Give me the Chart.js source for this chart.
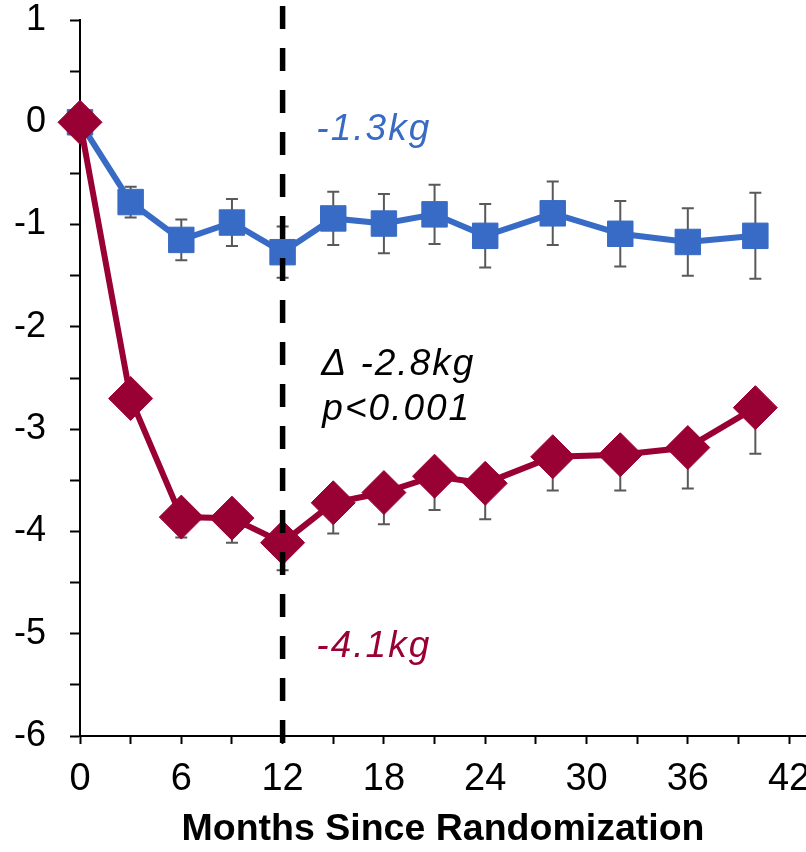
<!DOCTYPE html>
<html>
<head>
<meta charset="utf-8">
<title>Weight change since randomization</title>
<script src="https://cdn.jsdelivr.net/npm/chart.js@4/dist/chart.umd.min.js"></script>
<style>
    html, body { margin: 0; padding: 0; background: #fff; }
    #myChart { display: block; }
</style>
</head>
<body>
<canvas id="myChart" width="806" height="852"></canvas>
<script>
/*

Weight change (kg) by month since randomization, two arms with error bars.

*/

// Data
const months = [0, 3, 6, 9, 12, 15, 18, 21, 24, 28, 32, 36, 40];
const blueValues = [0, -0.78, -1.15, -0.98, -1.27, -0.94, -0.99, -0.90, -1.11, -0.89, -1.09, -1.17, -1.11];
const blueErrors = [0, 0.15, 0.20, 0.23, 0.25, 0.26, 0.29, 0.29, 0.31, 0.31, 0.32, 0.33, 0.42];
const redValues = [0, -2.70, -3.86, -3.87, -4.11, -3.72, -3.62, -3.46, -3.53, -3.27, -3.25, -3.18, -2.79];
const redErrors = [0, 0.15, 0.20, 0.24, 0.27, 0.30, 0.31, 0.33, 0.35, 0.33, 0.35, 0.40, 0.45];
const xTickValues = [0, 3, 6, 9, 12, 15, 18, 21, 24, 27, 30, 33, 36, 39, 42];
const yTickValues = [1, 0.5, 0, -0.5, -1, -1.5, -2, -2.5, -3, -3.5, -4, -4.5, -5, -5.5, -6];
const cutMonth = 12;
const pValueText = 'p<0.001';

const BLUE = '#386BC5';
const RED = '#990033';
const FONT = "Arial, 'Liberation Sans', sans-serif";

function pointsOf(values) {
    return months.map(function (m, i) { return { x: m, y: values[i] }; });
}

function kg(v) {
    return v.toFixed(1) + 'kg';
}

// keep the plot area fixed: no extra room for overflowing tick labels
function noPadding(scale) {
    scale.paddingTop = 0;
    scale.paddingBottom = 0;
    scale.paddingLeft = 0;
    scale.paddingRight = 0;
}

// Error bars drawn under each dataset's markers
const errorBars = {
    id: 'errorBars',
    beforeDatasetDraw: function (chart, args) {
        const ds = chart.data.datasets[args.index];
        if (!ds.errors) return;
        const ctx = chart.ctx;
        const xs = chart.scales.x;
        const ys = chart.scales.y;
        ctx.save();
        ctx.strokeStyle = '#595959';
        ctx.lineWidth = 2;
        for (let i = 0; i < ds.data.length; i++) {
            const e = ds.errors[i];
            if (!e) continue;
            const px = xs.getPixelForValue(ds.data[i].x);
            const yMid = ys.getPixelForValue(ds.data[i].y);
            const ends = [ys.getPixelForValue(ds.data[i].y - e)];
            if (ds.bothSides) ends.push(ys.getPixelForValue(ds.data[i].y + e));
            ends.forEach(function (yEnd) {
                ctx.beginPath();
                ctx.moveTo(px, yMid);
                ctx.lineTo(px, yEnd);
                ctx.moveTo(px - 6, yEnd);
                ctx.lineTo(px + 6, yEnd);
                ctx.stroke();
            });
        }
        ctx.restore();
    }
};

// Dashed marker at 12 months and the text notes
const notes = {
    id: 'notes',
    afterDatasetsDraw: function (chart) {
        const ctx = chart.ctx;
        const px = chart.scales.x.getPixelForValue(cutMonth);
        ctx.save();
        ctx.strokeStyle = '#000';
        ctx.lineWidth = 5.5;
        ctx.setLineDash([23, 19]);
        ctx.beginPath();
        ctx.moveTo(px, chart.chartArea.top - 14);
        ctx.lineTo(px, chart.chartArea.bottom + 8);
        ctx.stroke();
        ctx.restore();

        const i = months.indexOf(cutMonth);
        const blueAt = blueValues[i];
        const redAt = redValues[i];
        const tx = chart.scales.x.getPixelForValue(14);

        ctx.save();
        ctx.font = 'italic 37px ' + FONT;
        ctx.letterSpacing = '2px';
        ctx.textAlign = 'left';
        ctx.textBaseline = 'alphabetic';
        ctx.fillStyle = BLUE;
        ctx.fillText(kg(blueAt), tx, 140);
        ctx.fillStyle = RED;
        ctx.fillText(kg(redAt), tx, 657);
        ctx.fillStyle = '#000';
        ctx.fillText('\u0394 ' + kg(redAt - blueAt), tx + 5, 375);
        ctx.fillText(pValueText, tx + 6, 420);
        ctx.restore();
    }
};

const ctx = document.getElementById('myChart').getContext('2d');
const myChart = new Chart(ctx, {
    type: 'line',
    data: {
        datasets: [{
            label: 'Red arm',
            data: pointsOf(redValues),
            errors: redErrors,
            bothSides: false,
            borderColor: RED,
            backgroundColor: RED,
            borderWidth: 6,
            pointStyle: 'rectRot',
            pointRadius: 22,
            pointBorderWidth: 1,
            pointBorderColor: RED,
            pointBackgroundColor: RED,
            tension: 0,
            clip: false
        }, {
            label: 'Blue arm',
            data: pointsOf(blueValues),
            errors: blueErrors,
            bothSides: true,
            borderColor: BLUE,
            backgroundColor: BLUE,
            borderWidth: 6,
            pointStyle: 'rect',
            pointRadius: 18,
            pointBorderWidth: 1,
            pointBorderColor: BLUE,
            pointBackgroundColor: BLUE,
            tension: 0,
            clip: false
        }]
    },
    options: {
        responsive: false,
        animation: false,
        events: [],
        layout: {
            autoPadding: false,
            padding: { top: 20, left: 0, right: 0, bottom: 0 }
        },
        plugins: {
            legend: { display: false },
            tooltip: { enabled: false }
        },
        scales: {
            x: {
                type: 'linear',
                min: 0,
                max: 43,
                afterBuildTicks: function (scale) {
                    scale.ticks = xTickValues.map(function (v) { return { value: v }; });
                },
                afterFit: function (scale) {
                    scale.height = 116;
                    noPadding(scale);
                },
                ticks: {
                    autoSkip: false,
                    maxRotation: 0,
                    padding: 13,
                    color: '#000',
                    font: { family: FONT, size: 38 },
                    callback: function (v) { return v % 6 === 0 ? String(v) : ''; }
                },
                grid: {
                    drawOnChartArea: false,
                    tickLength: 8,
                    tickWidth: 2,
                    tickColor: '#000'
                },
                border: { color: '#000', width: 2 },
                title: {
                    display: true,
                    text: 'Months Since Randomization',
                    color: '#000',
                    font: { family: FONT, size: 37.5, weight: 'bold' },
                    padding: { top: 0, bottom: 0 }
                }
            },
            y: {
                min: -6,
                max: 1,
                afterBuildTicks: function (scale) {
                    scale.ticks = yTickValues.map(function (v) { return { value: v }; });
                },
                afterFit: function (scale) {
                    scale.width = 80;
                    noPadding(scale);
                },
                ticks: {
                    autoSkip: false,
                    padding: 24,
                    color: '#000',
                    font: { family: FONT, size: 36 },
                    callback: function (v) { return Number.isInteger(v) ? String(v) : ''; }
                },
                grid: {
                    drawOnChartArea: false,
                    tickLength: 10,
                    tickWidth: 2,
                    tickColor: '#000'
                },
                border: { color: '#000', width: 2 }
            }
        }
    },
    plugins: [errorBars, notes]
});
</script>
</body>
</html>
